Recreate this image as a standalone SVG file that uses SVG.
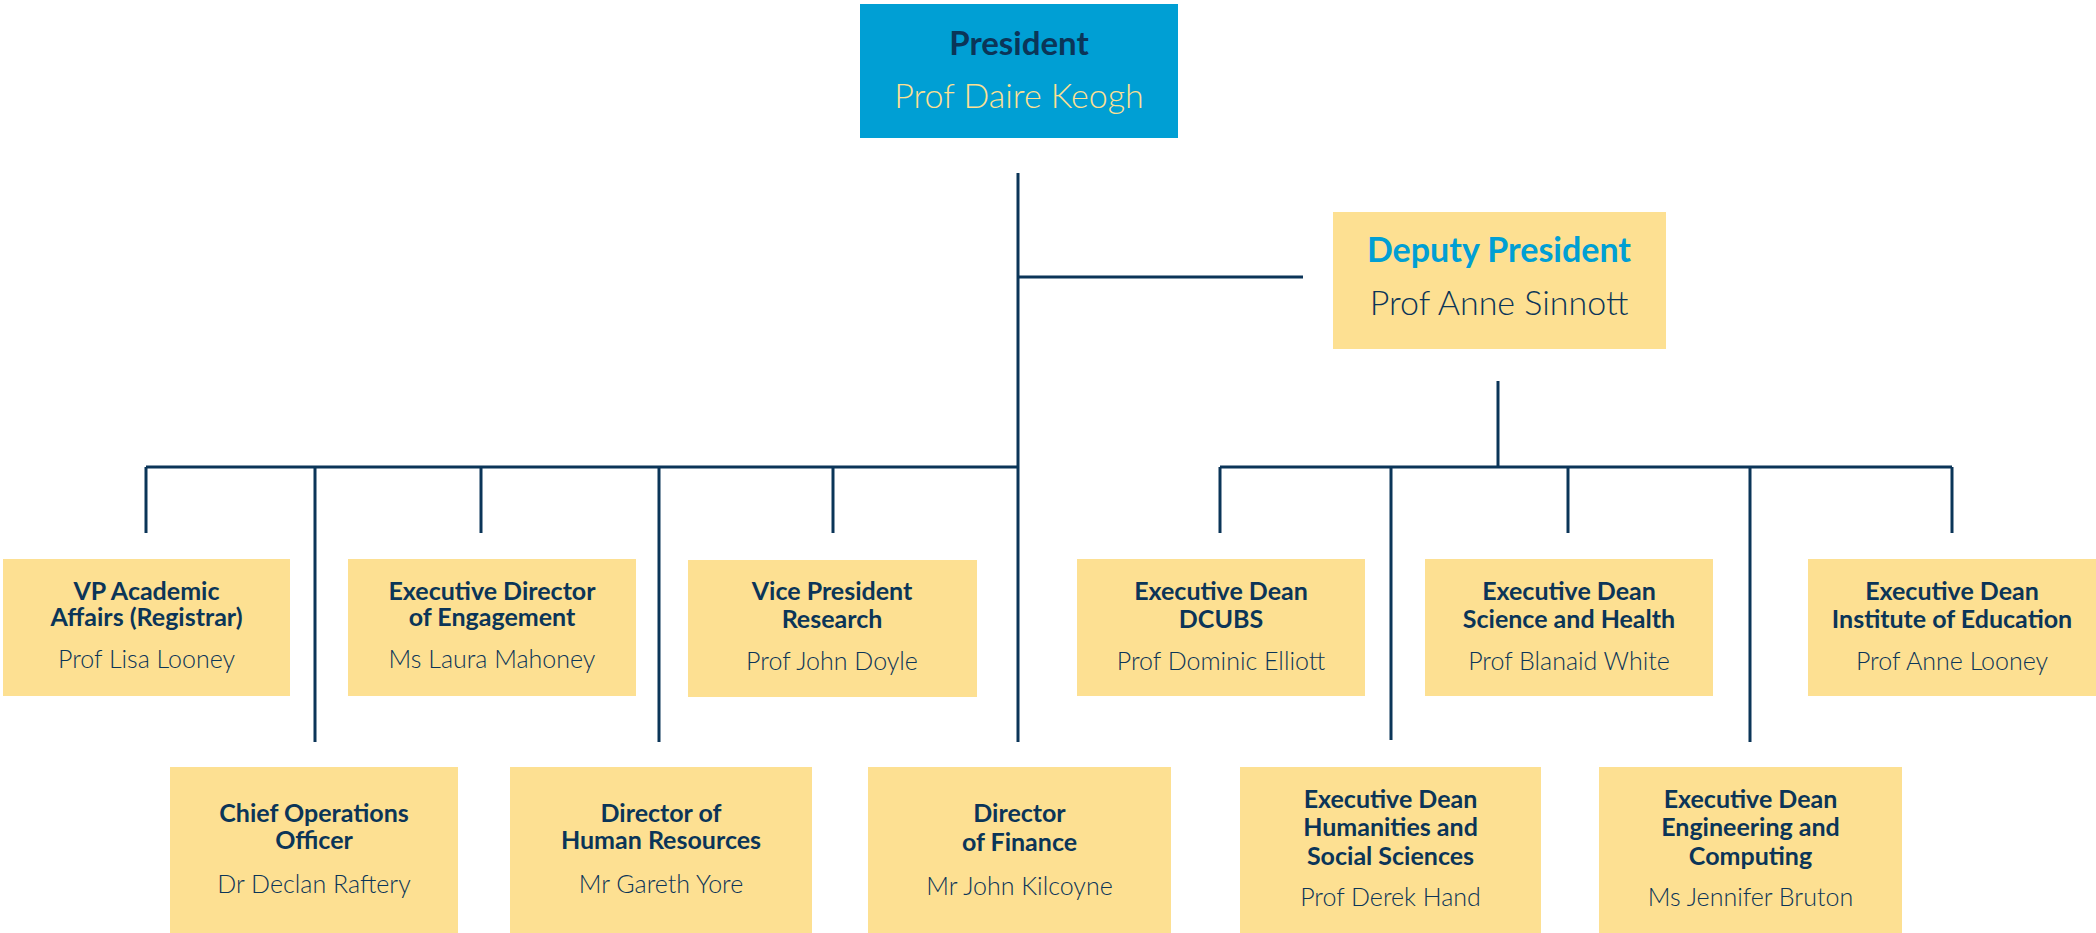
<svg xmlns="http://www.w3.org/2000/svg" width="2096" height="933" viewBox="0 0 2096 933">
<style>
.box{fill:#FDE092}
.pbox{fill:#009FD4}
.t{font-family:Lato,"Liberation Sans",sans-serif;font-weight:700;font-size:25px;fill:#0B3558;text-anchor:middle}
.n{font-family:Lato,"Liberation Sans",sans-serif;font-weight:300;font-size:25px;fill:#0B3558;text-anchor:middle}
.bt{font-family:Lato,"Liberation Sans",sans-serif;font-weight:700;font-size:34px;text-anchor:middle}
.bn{font-family:Lato,"Liberation Sans",sans-serif;font-weight:300;font-size:34px;text-anchor:middle}
.c{stroke:#0B3558;stroke-width:3;fill:none}
</style>
<g id="connectors" class="c">
<line x1="1018" y1="173" x2="1018" y2="742"/>
<line x1="1018" y1="277" x2="1303" y2="277"/>
<line x1="146" y1="467" x2="1018" y2="467"/>
<line x1="146" y1="467" x2="146" y2="533"/>
<line x1="315" y1="467" x2="315" y2="742"/>
<line x1="481" y1="467" x2="481" y2="533"/>
<line x1="659" y1="467" x2="659" y2="742"/>
<line x1="833" y1="467" x2="833" y2="533"/>
<line x1="1498" y1="381" x2="1498" y2="467"/>
<line x1="1220" y1="467" x2="1952" y2="467"/>
<line x1="1220" y1="467" x2="1220" y2="533"/>
<line x1="1391" y1="467" x2="1391" y2="740"/>
<line x1="1568" y1="467" x2="1568" y2="533"/>
<line x1="1750" y1="467" x2="1750" y2="742"/>
<line x1="1952" y1="467" x2="1952" y2="533"/>
</g>
<g id="president">
<rect class="pbox" x="860" y="4" width="318" height="134"/>
<text class="bt" x="1019" y="55" fill="#0B3558" style="font-size:33px">President</text>
<text class="bn" x="1019" y="108" fill="#FDE092">Prof Daire Keogh</text>
</g>
<g id="deputy">
<rect class="box" x="1333" y="212" width="333" height="137"/>
<text class="bt" x="1499" y="262" fill="#009FD4">Deputy President</text>
<text class="bn" x="1499" y="315" fill="#0B3558">Prof Anne Sinnott</text>
</g>
<g id="vp-academic">
<rect class="box" x="3" y="559" width="287" height="137"/>
<text class="t" x="146.5" y="600">VP Academic</text>
<text class="t" x="146.5" y="626">Affairs (Registrar)</text>
<text class="n" x="146.5" y="668">Prof Lisa Looney</text>
</g>
<g id="engagement">
<rect class="box" x="348" y="559" width="288" height="137"/>
<text class="t" x="492" y="600">Executive Director</text>
<text class="t" x="492" y="626">of Engagement</text>
<text class="n" x="492" y="668">Ms Laura Mahoney</text>
</g>
<g id="research">
<rect class="box" x="688" y="560" width="289" height="137"/>
<text class="t" x="832" y="600">Vice President</text>
<text class="t" x="832" y="628">Research</text>
<text class="n" x="832" y="670">Prof John Doyle</text>
</g>
<g id="dcubs">
<rect class="box" x="1077" y="559" width="288" height="137"/>
<text class="t" x="1221" y="600">Executive Dean</text>
<text class="t" x="1221" y="628">DCUBS</text>
<text class="n" x="1221" y="670">Prof Dominic Elliott</text>
</g>
<g id="science">
<rect class="box" x="1425" y="559" width="288" height="137"/>
<text class="t" x="1569" y="600">Executive Dean</text>
<text class="t" x="1569" y="628">Science and Health</text>
<text class="n" x="1569" y="670">Prof Blanaid White</text>
</g>
<g id="education">
<rect class="box" x="1808" y="559" width="288" height="137"/>
<text class="t" x="1952" y="600">Executive Dean</text>
<text class="t" x="1952" y="628">Institute of Education</text>
<text class="n" x="1952" y="670">Prof Anne Looney</text>
</g>
<g id="coo">
<rect class="box" x="170" y="767" width="288" height="166"/>
<text class="t" x="314" y="822">Chief Operations</text>
<text class="t" x="314" y="849">Officer</text>
<text class="n" x="314" y="893">Dr Declan Raftery</text>
</g>
<g id="hr">
<rect class="box" x="510" y="767" width="302" height="166"/>
<text class="t" x="661" y="822">Director of</text>
<text class="t" x="661" y="849">Human Resources</text>
<text class="n" x="661" y="893">Mr Gareth Yore</text>
</g>
<g id="finance">
<rect class="box" x="868" y="767" width="303" height="166"/>
<text class="t" x="1019.5" y="822">Director</text>
<text class="t" x="1019.5" y="851">of Finance</text>
<text class="n" x="1019.5" y="895">Mr John Kilcoyne</text>
</g>
<g id="humanities">
<rect class="box" x="1240" y="767" width="301" height="166"/>
<text class="t" x="1390.5" y="808">Executive Dean</text>
<text class="t" x="1390.5" y="836">Humanities and</text>
<text class="t" x="1390.5" y="865">Social Sciences</text>
<text class="n" x="1390.5" y="906">Prof Derek Hand</text>
</g>
<g id="engineering">
<rect class="box" x="1599" y="767" width="303" height="166"/>
<text class="t" x="1750.5" y="808">Executive Dean</text>
<text class="t" x="1750.5" y="836">Engineering and</text>
<text class="t" x="1750.5" y="865">Computing</text>
<text class="n" x="1750.5" y="906">Ms Jennifer Bruton</text>
</g>
</svg>
